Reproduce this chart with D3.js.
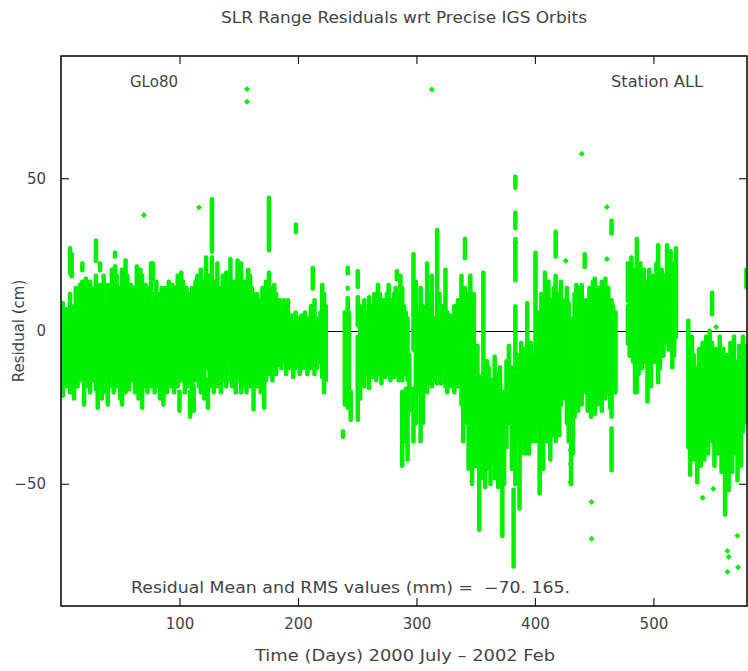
<!DOCTYPE html>
<html>
<head>
<meta charset="utf-8">
<script src="https://cdn.jsdelivr.net/npm/d3@7"></script>
<style>
  body { margin: 0; background: #fff; }
  text { font-family: "DejaVu Sans", sans-serif; fill: #444; }
</style>
</head>
<body>
<div id="chart"></div>
<script>
// residual streaks: [day, lowest cm, highest cm], one per pass
var streaksA = [[0,-20,6],[1.5,-21,9],[3,-12,2],[4.5,-18,7],[6,-8,3],[7.6,19,27],[7.6,-20,12],[9,18,25],[9,-14,8],[11,-22,4],[12.5,-10,14],[14,-18,10],[16,-16,15],[18,20,22],[18,-12,16],[19.5,-24,-8],[19.5,-6,12],[21,-18,17],[23,-14,10],[24.5,-20,16],[26,-8,14],[28,-16,12],[29.5,23,29.5],[29.5,-19,18],[31,-25,-14],[31,-10,10],[33,20,22],[33,-16,15],[34.5,-22,12],[36,-12,18],[38,-20,8],[39.5,-24,-8],[39.5,-4,15],[41,-18,12],[43,-14,20],[44.5,-20,16],[45.6,24.5,25.5],[45.6,-10,21],[47,-18,18],[48.5,-15,10],[50,-22,14],[51.5,-24,-10],[51.5,-8,20],[53,-16,12],[54.5,7,23],[54.5,-20,4],[56,-14,18],[57.5,-19,10],[59,-12,15],[61,-16,14],[62.5,-20,8],[64,-10,21],[65.5,-22,16],[67,-14,20],[68.5,-25,-12],[68.5,-8,18],[70,-18,12],[71.5,-15,15],[73,-20,10],[74.5,-12,14],[76,-18,22],[77.5,17,22],[77.5,-16,12],[79,-20,8],[80.5,-14,16],[82,-18,10],[83.5,-22,12],[85,-12,14],[86.5,-24,-10],[86.5,-6,10],[88,-16,14],[89.5,-20,12],[91,-10,16],[92.5,-18,8],[94,-15,15],[95.5,-20,10],[97,-12,14],[98.5,-18,18],[100,-26,-20],[100,-14,12],[101.5,11,19],[101.5,-16,10],[103,-12,16],[104.5,-20,8],[106,-14,14],[107.5,-18,10],[109,-28,-20],[109,-12,12],[110.5,-20,14],[112,-26,-18],[112,-10,8],[113.5,-16,16],[115,-12,18],[116.5,-18,14],[118,-20,20],[119.5,-14,12],[121,-22,16],[122.5,-10,24],[124,-25,-16],[124,-12,10],[125.5,-18,18],[127.4,26,43],[127.4,-16,24],[129,-20,12],[130.5,-12,16],[132,-18,22],[133.5,-14,10],[135,-20,14],[136.5,-10,18],[138,-16,12],[139.5,-18,19],[141,-10,14],[143,-1,23.5],[143,-16,-4],[144.5,-18,10],[146,-14,16],[147.5,-20,12],[149,-12,23],[150.5,-16,18],[152,-20,-10],[152,-8,22],[153.5,-18,14],[155,-14,16],[156.5,-20,12],[158,-12,20],[159.5,-18,18],[161,-14,14],[162.5,-25.5,-14],[162.5,-10,12],[164,-16,10],[165.5,-18,12],[167,-12,8],[168.5,-20,10],[170,-14,14],[171.5,-25,-10],[171.5,-6,12],[173,-16,16],[175.5,26.5,43.5],[175.5,-14,19],[177,-12,14],[178.5,-16,10],[180,-10,15],[181.5,-14,12],[183,-11,8],[184.5,-8,10],[186,-12,6],[188,-10,10],[190,-14,4],[191.5,-8,10],[193,-12,3],[194.5,-10,5],[196,-15,2],[198,-12,6],[198.3,32.4,34.7],[200,-8,4],[201.5,-14,2],[203,-10,5],[204.5,-12,3],[206,-9,6],[208,-14,4],[209.5,-8,2],[211,-12,8],[212.5,14,20.5],[212.5,-10,5],[214,-14,10],[216,-12,4],[219,-10,6],[220.5,-15,15],[222,-20,12],[223.5,-16,8]];

var streaksB = [[238,-34.5,-33],[239.5,-24,6],[242,19,20.6],[242,14,14],[242,4.6,10.6],[242,-25,1.3],[243,-24,6],[244.5,-29,-20]];

var streaksC = [[250.5,14.6,19.5],[250.5,2,11],[250.5,-29,-2],[252.5,-22,8],[254,-16,4],[256,-18,10],[258,-14,6],[260,-18.6,11],[261.5,-12,8],[263,-15,8],[264.5,-12,12],[266,-16,6],[267.5,-10,15],[269,-14,12],[270.5,-17,8],[272,-12,10],[273.5,-15,6],[275,-10,12],[276.5,-14,15],[278,-16,10],[279.5,-12,8],[281,-15,12],[282.5,-10,14],[283.5,17,19.5],[283.5,-14,10],[285,-16,12],[286.5,-12,18],[288,-44,-20],[288,-16,14],[289.5,-14,8],[291,-36,-19],[291,-10,6],[292.5,-42,-22],[292.5,-16,4],[294,-26,-8],[297.5,-6,25],[297.5,-36,-19],[299.5,-30,16],[301.5,-20,6],[303.5,-36,14],[305.5,-30,8],[307,-18,4],[309,-20,22],[311,-17,12],[313,-18,18],[315,-16,4],[317.5,-17,33],[319.5,-14,12],[321,-17,4],[322.5,-12,8],[324.5,-3,20],[324.5,-18,-4],[326,-20,6],[327.5,-16,2],[329,-18,5],[330.5,-14,4],[332,-20,8],[333.5,-15,6],[335,-18,10],[336.5,-12,8],[338,-24,18],[339.5,-36,10],[341,24,30],[341,-15,14],[342.5,-30,12],[344,-45,-10],[345.5,-36,18],[347,-50,-20],[348.5,-30,12],[350,-44,-10],[351.5,-40,-5],[353,-65,-30],[354.5,-48,-15],[356.5,-40,19],[358,-51,-20],[359.5,-45,-10],[361,-38,-12],[362.5,-50,-25],[364,-42,-16],[366,-48,-8.5],[367.5,-40,-14],[369,-51,-22],[370.5,-44,-12],[372.5,-67,-30],[374,-50,-20],[376,-38,-10],[378,-30,-5],[380.5,-45,-12],[382,-77,-52],[383.5,47,50.4],[383.5,33.7,38.6],[383.5,16.7,30],[383.5,-12.4,7.9],[383.5,-50,-14],[385.5,-36,-8],[387,-58,-20],[388.5,-40,-4],[390.5,-34,-6],[392,-40,-10],[393.5,-30,9],[395,-40,-12],[396.5,-28,-4],[398,-36,-8],[400.5,-36,25.5],[402.5,-30,6],[404,-53,-10],[405.5,-34,12],[407,-45,-14],[408.5,-30,19],[410,-36,4],[411.5,-26,16],[413,-42,-6],[414.5,-34,10],[416,-28,14],[417.5,24.5,32.4],[417.5,-36,18],[419,-30,8],[420.5,-34,12],[422,-24,16],[423.5,-18,6],[425.5,-22,10],[427,-30,14],[428.5,-36,9],[430.5,-50,-10],[432,-40,4],[433.5,-28,12],[435,-22,15],[436.5,-26,8],[438,-18,14],[439.5,-24,15],[442,21,25],[443,-20,10],[444.5,-26,6],[446,-22,14],[447.5,-28,10],[449,-18,16],[450.5,-27,17],[452,-20,8],[453.5,-24,14],[455,-16,12],[456.5,-26,16],[458,-18,6],[459.5,-22,17],[462,-20,14],[463.5,-25,4],[464.7,32,36],[464.7,-45.5,-32],[464.7,-28,10],[466,-14,8],[468,-20,6]];

var streaksD = [[478.5,10,22],[478.5,-4,8],[480,-8,18],[481.5,-2,24],[483,-10,14],[484.5,-20,-4],[484.5,0,20],[486,-20,30],[487.5,-14,16],[489,-6,22],[490.5,-12,12],[492,-4,20],[493.5,-10,16],[495,-23,-6],[495,-4,14],[496.5,-8,20],[498,-18,10],[499.5,-6,18],[501,-10,12],[502.5,-4,22],[504,-16.7,28],[505.5,-12,16],[507,-6,20],[508.5,-8,12],[510,-4,18],[511.5,-2,28],[513,-6,20],[514.5,-2,26],[516,-11.8,22],[517.5,-8,18],[519,-2,27]];

var streaksE = [[529.5,-38,3.3],[531,-47,-10],[532.5,-30,-2],[534,-42,-8],[535.5,-40.6,-12],[537,-49.4,-16],[538.5,-36,-6],[540,-44,-12],[541.5,-38,-4],[543,-42,-14],[544.5,-34,-2],[546,-40,-10],[547.5,-30,0],[549.5,5.6,12.4],[549.5,-36,-4],[551.5,-44,-8],[553,-30,-6],[554.5,-40,-12],[556,-34,-2],[557.5,-46,-14],[559,-36,-6],[560.5,-60,-20],[562,-44,-8],[563.5,-52,-16],[565,-38,-4],[566.5,-46,-12],[568,-36,-2],[569.5,-40,-14],[571,-48.8,-10],[572.5,-38,-5],[574,-44,-12],[575.5,-33,-2],[577,-30,-8],[578.5,14.4,20],[578.5,-28,-5]];

// isolated residuals: [day, cm]
var singlePoints = [[70,38],[116.5,40.4],[157,75],[157,79.2],[313,79],[383.5,29],[426,23],[439.5,58],[460.8,40.6],[460.8,23.6],[430,-39],[430,-43.5],[430,-49.4],[447.8,-56],[447.8,-68],[541.5,-54.6],[550.5,-51.6],[553,1.3],[562.5,-72],[563.5,-74],[562.5,-78.8],[571,-67],[571.5,-77.3]];

var xTicks = [100, 200, 300, 400, 500];
var yTicks = [-50, 0, 50];
var xDomain = [0, 579];
var yDomain = [-90, 90];

var titleText = "SLR Range Residuals wrt Precise IGS Orbits";
var satText = "GLo80";
var stationText = "Station ALL";
var statsText = "Residual Mean and RMS values (mm) =  \u221270. 165.";
var xTitle = "Time (Days) 2000 July \u2013 2002 Feb";
var yTitle = "Residual (cm)";

var W = 748, H = 671;
var margin = {top: 56, right: 1, bottom: 65, left: 61};
var pw = W - margin.left - margin.right,
    ph = H - margin.top - margin.bottom;

var x = d3.scaleLinear().domain(xDomain).range([0, pw]);
var y = d3.scaleLinear().domain(yDomain).range([ph, 0]);

var svg = d3.select("#chart").append("svg")
    .attr("width", W)
    .attr("height", H);

svg.append("text")
    .attr("x", 404).attr("y", 23)
    .attr("text-anchor", "middle")
    .attr("font-size", 15)
    .attr("textLength", 366).attr("lengthAdjust", "spacingAndGlyphs")
    .text(titleText);

var g = svg.append("g")
    .attr("transform", "translate(" + margin.left + "," + margin.top + ")");

g.append("clipPath").attr("id", "plotclip")
  .append("rect").attr("width", pw).attr("height", ph);

// zero line sits under the data
g.append("line")
    .attr("x1", 0).attr("x2", pw)
    .attr("y1", Math.round(y(0)) + 0.5).attr("y2", Math.round(y(0)) + 0.5)
    .attr("stroke", "#000").attr("stroke-width", 1.2);

var fmt = d3.format("d");

var axB = g.append("g").attr("transform", "translate(0," + ph + ")")
    .call(d3.axisBottom(x).tickValues(xTicks).tickSize(-8).tickSizeOuter(0).tickPadding(12).tickFormat(fmt));
var axT = g.append("g")
    .call(d3.axisTop(x).tickValues(xTicks).tickSize(-8).tickSizeOuter(0).tickFormat(""));
var axL = g.append("g")
    .call(d3.axisLeft(y).tickValues(yTicks).tickSize(-8).tickSizeOuter(0).tickPadding(15).tickFormat(fmt));
var axR = g.append("g").attr("transform", "translate(" + pw + ",0)")
    .call(d3.axisRight(y).tickValues(yTicks).tickSize(-8).tickSizeOuter(0).tickFormat(""));

[axB, axT, axL, axR].forEach(function(a) {
    a.select(".domain").remove();
    a.selectAll("line").attr("stroke", "#222").attr("stroke-width", 1.2);
    a.selectAll("text").attr("font-size", 15).attr("fill", "#444")
        .attr("font-family", "DejaVu Sans, sans-serif");
});

var green = "#00f000";
var dots = g.append("g").attr("clip-path", "url(#plotclip)");

var allStreaks = streaksA.concat(streaksB, streaksC, streaksD, streaksE);
dots.selectAll("rect.pass")
    .data(allStreaks)
  .enter().append("rect")
    .attr("class", "pass")
    .attr("x", function(d) { return x(d[0]) - 2.25; })
    .attr("width", 4.5)
    .attr("y", function(d) { return y(d[2]) - 2.5; })
    .attr("height", function(d) { return y(d[1]) - y(d[2]) + 5; })
    .attr("rx", 2).attr("ry", 2)
    .attr("fill", green);

var diamond = d3.symbol().type(d3.symbolSquare).size(18);
dots.selectAll("path.pt")
    .data(singlePoints)
  .enter().append("path")
    .attr("class", "pt")
    .attr("d", diamond)
    .attr("transform", function(d) { return "translate(" + x(d[0]) + "," + y(d[1]) + ") rotate(45)"; })
    .attr("fill", green);

// frame on top
g.append("rect")
    .attr("width", pw).attr("height", ph)
    .attr("fill", "none").attr("stroke", "#000").attr("stroke-width", 1.5);

g.append("text").attr("x", 69).attr("y", 31)
    .attr("font-size", 15).text(satText);
g.append("text").attr("x", 642).attr("y", 31).attr("text-anchor", "end")
    .attr("font-size", 15)
    .attr("textLength", 92).attr("lengthAdjust", "spacingAndGlyphs")
    .text(stationText);
g.append("text").attr("x", 70).attr("y", 537)
    .attr("font-size", 15).style("white-space", "pre")
    .attr("textLength", 439).attr("lengthAdjust", "spacingAndGlyphs")
    .text(statsText);

svg.append("text")
    .attr("x", 405).attr("y", 661)
    .attr("text-anchor", "middle").attr("font-size", 15)
    .attr("textLength", 300).attr("lengthAdjust", "spacingAndGlyphs")
    .text(xTitle);

svg.append("text")
    .attr("transform", "translate(24,331) rotate(-90)")
    .attr("text-anchor", "middle").attr("font-size", 15)
    .text(yTitle);
</script>
</body>
</html>
